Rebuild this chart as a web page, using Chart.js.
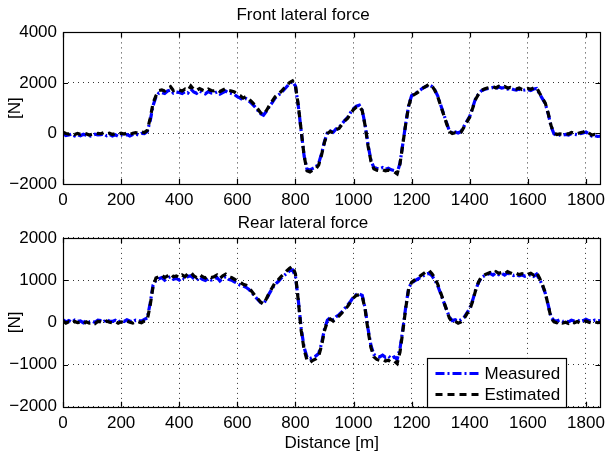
<!DOCTYPE html>
<html>
<head>
<meta charset="utf-8">
<script src="https://cdn.jsdelivr.net/npm/chart.js@4.4.0/dist/chart.umd.min.js"></script>
<style>
  html, body { margin: 0; padding: 0; background: #fff; }
  body { width: 611px; height: 458px; position: relative; overflow: hidden; }
  .box { position: absolute; left: 0; width: 611px; }
  #topBox { top: 0; height: 232px; }
  #botBox { top: 212px; height: 246px; }
</style>
</head>
<body>
<div class="box" id="topBox"><canvas id="frontChart"></canvas></div>
<div class="box" id="botBox"><canvas id="rearChart"></canvas></div>
<script>
// distance samples, every 10 m from 0 to 1850
const distance = Array.from({ length: 186 }, (_, i) => i * 10);

// front lateral force [N]
const frontMeasured = [
  0, -80, -60, -20, -100, -50, -90, -30, -70, -120,
  -80, -30, -60, -50, -20, -90, -40, -100, -50, -110,
  -60, -90, -40, -100, -40, -20, -60, 0, -10, 80,
  500, 1100, 1450, 1600, 1620, 1580, 1680, 1720, 1600, 1640,
  1620, 1580, 1650, 1600, 1760, 1640, 1590, 1680, 1620, 1570,
  1660, 1600, 1590, 1640, 1560, 1620, 1680, 1600, 1580, 1540,
  1460, 1400, 1320, 1380, 1280, 1180, 1060, 920, 780, 720,
  880, 1060, 1220, 1400, 1500, 1600, 1720, 1850, 1980, 2050,
  1880, 1080, 80, -900, -1420, -1440, -1380, -1330, -1180, -800,
  -320, 30, 100, 50, 180, 230, 380, 520, 640, 830,
  980, 1080, 1120, 920, 330, -460, -1060, -1350, -1380, -1400,
  -1350, -1420, -1380, -1440, -1470, -1560, -1180, -380, 420, 1120,
  1500, 1560, 1640, 1720, 1810, 1860, 1920, 1860, 1720, 1480,
  1130, 780, 430, 100, 20, 60, 20, 80, 280, 480,
  680, 1020, 1380, 1560, 1690, 1740, 1770, 1790, 1820, 1770,
  1840, 1800, 1820, 1760, 1780, 1740, 1720, 1760, 1700, 1720,
  1740, 1700, 1760, 1780, 1580, 1380, 1180, 780, 280, -20,
  -80, -60, -70, -40, -60, 0, -30, -50, -10, 20,
  60, -20, -100, -80, -120, -110
];
const frontEstimated = [
  50, 0, -20, 30, -40, 0, -30, 20, -10, -60,
  -30, 20, 0, -10, 30, -20, 10, -40, 0, -30,
  10, -20, 20, -40, 10, 30, 0, 60, 40, 120,
  600, 1200, 1500, 1700, 1720, 1680, 1780, 1850, 1700, 1750,
  1720, 1680, 1760, 1700, 1880, 1740, 1700, 1780, 1720, 1680,
  1760, 1700, 1690, 1740, 1660, 1720, 1780, 1700, 1680, 1640,
  1550, 1500, 1400, 1460, 1360, 1250, 1120, 980, 820, 750,
  900, 1100, 1280, 1450, 1550, 1650, 1780, 1900, 2020, 2080,
  1900, 1100, 100, -900, -1480, -1520, -1450, -1400, -1250, -850,
  -350, 0, 80, 20, 150, 200, 350, 500, 600, 800,
  950, 1050, 1080, 900, 300, -500, -1100, -1400, -1450, -1470,
  -1440, -1480, -1450, -1500, -1520, -1600, -1200, -400, 400, 1100,
  1480, 1550, 1620, 1700, 1800, 1870, 1950, 1880, 1700, 1450,
  1100, 750, 400, 80, 0, 30, 0, 50, 250, 450,
  650, 1000, 1350, 1550, 1700, 1760, 1800, 1820, 1850, 1800,
  1870, 1830, 1860, 1800, 1820, 1780, 1760, 1800, 1740, 1760,
  1780, 1750, 1800, 1820, 1600, 1400, 1200, 800, 300, 20,
  -40, -20, -30, 0, -20, 40, 10, -10, 30, 60,
  100, 20, -60, -40, -80, -70
];

// rear lateral force [N]
const rearMeasured = [
  60, 10, 40, 0, 50, 20, 30, -10, 40, 10,
  30, 0, 50, 40, 10, 70, 30, 20, 50, 10,
  40, 20, 60, 30, 10, 50, 40, 30, 70, 100,
  450, 880, 1000, 1030, 1060, 1000, 1050, 1080, 1020, 1040,
  1000, 1060, 1020, 1090, 1100, 1040, 1000, 1070, 1020, 990,
  1040, 1000, 1020, 1060, 980, 1040, 1080, 1020, 1000, 960,
  920, 880, 860, 830, 780, 700, 620, 540, 470, 440,
  540, 680, 800, 900, 960, 1040, 1100, 1160, 1220, 1240,
  1100, 520, -150, -600, -830, -860, -830, -800, -740, -500,
  -160, 50, 110, 60, 130, 180, 250, 330, 410, 500,
  600, 660, 670, 640, 330, -160, -550, -760, -800, -820,
  -780, -830, -800, -860, -820, -880, -620, -150, 380, 820,
  930, 980, 1020, 1060, 1100, 1140, 1160, 1100, 1000, 860,
  680, 490, 300, 120, 40, 60, 30, 60, 110, 220,
  330, 520, 760, 940, 1060, 1100, 1130, 1160, 1120, 1170,
  1130, 1160, 1120, 1170, 1140, 1110, 1130, 1100, 1120, 1090,
  1110, 1130, 1090, 1140, 1020, 880, 690, 410, 120, 40,
  30, 60, 20, 40, 10, 50, 30, 60, 20, 40,
  70, 40, 20, 50, 30, 40
];
const rearEstimated = [
  30, -20, 10, -30, 20, -10, 0, -40, 10, -20,
  0, -30, 20, 10, -20, 30, 0, -10, 20, -20,
  10, -10, 30, 0, -20, 20, 10, -10, 30, 60,
  400, 850, 1050, 1080, 1120, 1060, 1100, 1150, 1080, 1100,
  1060, 1120, 1080, 1150, 1180, 1100, 1060, 1130, 1080, 1050,
  1100, 1060, 1080, 1120, 1040, 1100, 1140, 1080, 1060, 1020,
  980, 950, 900, 880, 820, 730, 640, 560, 480, 430,
  560, 700, 820, 940, 1000, 1080, 1150, 1220, 1280, 1330,
  1150, 500, -200, -650, -900, -950, -900, -870, -800, -550,
  -200, 20, 80, 30, 100, 150, 220, 300, 380, 480,
  580, 640, 650, 620, 300, -200, -600, -820, -880, -900,
  -880, -920, -900, -950, -920, -980, -700, -200, 350, 800,
  950, 1000, 1050, 1100, 1150, 1200, 1230, 1150, 1050, 900,
  700, 500, 300, 100, 0, 20, -20, 10, 80, 200,
  300, 500, 750, 950, 1080, 1120, 1150, 1180, 1150, 1200,
  1160, 1180, 1150, 1200, 1170, 1140, 1160, 1130, 1150, 1120,
  1140, 1160, 1120, 1180, 1050, 900, 700, 400, 100, 10,
  -10, 20, -20, 0, -30, 10, -10, 20, -20, 0,
  30, 0, -20, 10, -10, 0
];

const xTicks = [0, 200, 400, 600, 800, 1000, 1200, 1400, 1600, 1800];
const frontYTicks = [-2000, 0, 2000, 4000];
const rearYTicks = [-2000, -1000, 0, 1000, 2000];

const FONT = "'Liberation Sans', Arial, Helvetica, sans-serif";
const FS = 17;

function pts(ys) {
  return distance.map((d, i) => ({ x: d, y: ys[i] }));
}
function fmt(v) {
  return v < 0 ? '\u2212' + Math.abs(v) : String(v);
}

// MATLAB-like box with inward tick marks
const framePlugin = {
  id: 'frame',
  afterDatasetsDraw(chart) {
    const { ctx, chartArea: a, scales } = chart;
    const x = scales.x, y = scales.y;
    ctx.save();
    ctx.strokeStyle = '#000';
    ctx.lineWidth = 1.2;
    ctx.setLineDash([]);
    ctx.beginPath();
    xTicks.forEach(v => {
      const px = Math.round(x.getPixelForValue(v)) + 0.5;
      ctx.moveTo(px, a.bottom); ctx.lineTo(px, a.bottom - 5);
      ctx.moveTo(px, a.top); ctx.lineTo(px, a.top + 5);
    });
    y.ticks.forEach(t => {
      const py = Math.round(y.getPixelForValue(t.value)) + 0.5;
      ctx.moveTo(a.left, py); ctx.lineTo(a.left + 5, py);
      ctx.moveTo(a.right, py); ctx.lineTo(a.right - 5, py);
    });
    ctx.stroke();
    ctx.strokeRect(Math.round(a.left) + 0.5, Math.round(a.top) + 0.5,
      Math.round(a.width), Math.round(a.height));
    ctx.restore();
  }
};

// legend box in the lower right corner
const legendPlugin = {
  id: 'boxLegend',
  afterDraw(chart) {
    const { ctx, chartArea: a } = chart;
    const w = 139, h = 49;
    const right = Math.round(a.right - 34) + 0.5;
    const bottom = Math.round(a.bottom) + 0.5;
    const left = right - w, top = bottom - h;
    ctx.save();
    ctx.fillStyle = '#fff';
    ctx.fillRect(left, top, w, h);
    ctx.strokeStyle = '#000';
    ctx.lineWidth = 1.2;
    ctx.strokeRect(left, top, w, h);
    const items = [chart.data.datasets[1], chart.data.datasets[0]];
    ctx.font = FS + 'px ' + FONT;
    ctx.textBaseline = 'middle';
    items.forEach((ds, i) => {
      const yy = top + 15 + i * 21;
      ctx.beginPath();
      ctx.strokeStyle = ds.borderColor;
      ctx.lineWidth = ds.borderWidth;
      ctx.setLineDash(ds.borderDash);
      ctx.moveTo(left + 8, yy);
      ctx.lineTo(left + 53, yy);
      ctx.stroke();
      ctx.setLineDash([]);
      ctx.fillStyle = '#000';
      ctx.fillText(ds.label, left + 57, yy + 1);
    });
    ctx.restore();
  }
};

function makeChart(id, title, measured, estimated, yMin, yMax, opts) {
  return new Chart(document.getElementById(id), {
    type: 'line',
    data: {
      datasets: [
        {
          label: 'Estimated',
          data: pts(estimated),
          borderColor: '#000000',
          borderWidth: 3.2,
          borderDash: [7, 5],
          pointRadius: 0,
          order: 0
        },
        {
          label: 'Measured',
          data: pts(measured),
          borderColor: '#0000ff',
          borderWidth: 3.2,
          borderDash: [9, 3, 2, 3],
          pointRadius: 0,
          order: 1
        }
      ]
    },
    options: {
      responsive: true,
      maintainAspectRatio: false,
      animation: false,
      events: [],
      layout: { padding: { left: 0, right: 5, top: 0, bottom: 0 } },
      plugins: {
        legend: { display: false },
        tooltip: { enabled: false },
        title: {
          display: true,
          text: title,
          color: '#000',
          font: { family: FONT, size: FS, weight: 'normal' },
          padding: opts.titlePad
        }
      },
      scales: {
        x: {
          type: 'linear',
          min: 0,
          max: 1850,
          afterBuildTicks: s => { s.ticks = xTicks.map(v => ({ value: v })); },
          afterFit: s => { s.height = opts.xHeight; },
          ticks: {
            color: '#000',
            padding: opts.xTickPad,
            maxRotation: 0,
            autoSkip: false,
            font: { family: FONT, size: FS },
            callback: v => fmt(v)
          },
          grid: { color: '#333', lineWidth: 1, drawTicks: false },
          border: { display: false, dash: [1, 4] },
          title: opts.xTitle
            ? { display: true, text: opts.xTitle, color: '#000',
                font: { family: FONT, size: FS }, padding: { top: 0, bottom: 4 } }
            : { display: false }
        },
        y: {
          min: yMin,
          max: yMax,
          afterBuildTicks: s => { s.ticks = opts.yTicks.map(v => ({ value: v })); },
          afterFit: s => { s.width = 63; },
          ticks: {
            color: '#000',
            padding: 6,
            font: { family: FONT, size: FS },
            callback: v => fmt(v)
          },
          grid: { color: '#333', lineWidth: 1, drawTicks: false },
          border: { display: false, dash: [1, 4] },
          title: {
            display: true,
            text: '[N]',
            color: '#000',
            font: { family: FONT, size: FS },
            padding: { top: 5, bottom: 0 }
          }
        }
      }
    },
    plugins: opts.legend ? [framePlugin, legendPlugin] : [framePlugin]
  });
}

makeChart('frontChart', 'Front lateral force', frontMeasured, frontEstimated, -2000, 4000, {
  titlePad: { top: 5, bottom: 7 },
  xHeight: 48,
  xTickPad: 6,
  yTicks: frontYTicks,
  legend: false
});

makeChart('rearChart', 'Rear lateral force', rearMeasured, rearEstimated, -2000, 2000, {
  titlePad: { top: 1, bottom: 4.5 },
  xHeight: 51.3,
  xTickPad: 6,
  xTitle: 'Distance [m]',
  yTicks: rearYTicks,
  legend: true
});
</script>
</body>
</html>
